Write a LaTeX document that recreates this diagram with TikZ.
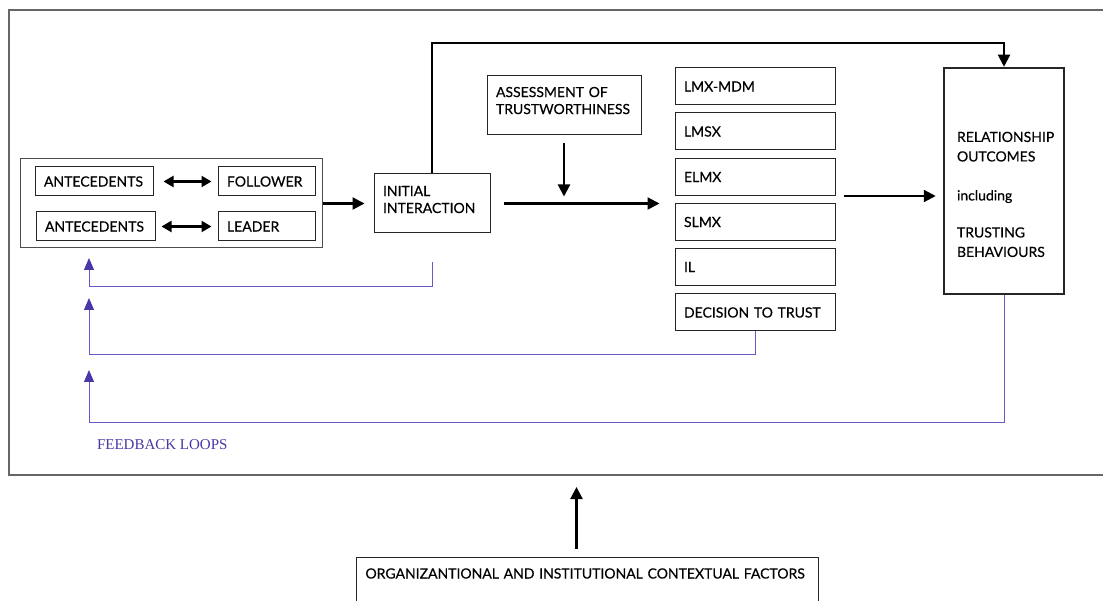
\documentclass[tikz,border=0pt]{standalone}
\usepackage{fontspec}
\setmainfont{Lato}
\newfontfamily\boxfont{Lato}[FakeBold=0.4]
\newfontfamily\loopfont{Liberation Serif}
\usetikzlibrary{arrows.meta}
\definecolor{loopcol}{RGB}{104,88,200}
\definecolor{loophead}{RGB}{72,56,168}
\tikzset{
  box/.style={draw=black!85, line width=1pt, inner xsep=9pt, inner ysep=0pt, align=left, font=\boxfont\fontsize{14}{17}\selectfont},
  arr/.style={line width=2.2pt, -{Triangle[length=12pt,width=12pt]}},
  dblarr/.style={line width=2.2pt, {Triangle[length=10pt,width=11pt]}-{Triangle[length=10pt,width=11pt]}},
  fb/.style={draw=loopcol, line width=1pt, -{Triangle[length=12pt,width=10pt,color=loophead,fill=loophead]}}
}
\begin{document}
\begin{tikzpicture}[x = 1pt, y = -1pt]
	\useasboundingbox (0,0) rectangle (1103,601);
	% Nodes
	\node[draw=black!60, line width=2pt, minimum width=1110pt, minimum height=465pt, anchor=north west, inner sep=0pt] (frame) at (8,9) {};
	\node[box, text width=100pt, minimum height=29pt] (antf) at (94,181.5) {ANTECEDENTS};
	\node[box, text width=79pt, minimum height=29pt] (fol) at (266.5,181.5) {FOLLOWER};
	\node[box, text width=101pt, minimum height=29pt] (antl) at (95.5,226.5) {ANTECEDENTS};
	\node[box, text width=79pt, minimum height=29pt] (lead) at (266.5,226.5) {LEADER};
	\node[draw=black!70, line width=1pt, minimum width=302pt, minimum height=89pt] (grp) at (171,203.5) {};
	\node[box, text width=98pt, minimum height=59pt] (init) at (432,203.5) {INITIAL\\INTERACTION\\[-9pt]\mbox{}};
	\node[box, text width=136pt, minimum height=59pt] (assess) at (564,105.5) {ASSESSMENT OF\\TRUSTWORTHINESS\\[-7pt]\mbox{}};
	\foreach \lbl/\nm/\yy in {LMX-MDM/mdm/86.5, LMSX/lmsx/131.5, ELMX/elmx/177, SLMX/slmx/222, IL/il/267, DECISION TO TRUST/dtt/312.5}
		\node[box, text width=142pt, minimum height=37pt] (\nm) at (755,\yy) {\lbl};
	\node[box, line width=2.5pt, inner xsep=13pt, text width=94pt, minimum height=226pt, font=\boxfont\fontsize{14}{19.5}\selectfont] (rel) at (1004,181) {\mbox{}\\[17.5pt]RELATIONSHIP\\OUTCOMES\\[19.5pt]including\\[17.5pt]TRUSTING\\BEHAVIOURS};
	\node[box, anchor=north west, text width=444pt, text height=11pt, text depth=45pt, inner ysep=10pt] (org) at (356,557) {ORGANIZANTIONAL AND INSTITUTIONAL CONTEXTUAL FACTORS};
	\node[font=\loopfont\fontsize{15}{17}\selectfont, text=loophead, anchor=west] (fbl) at (93.5,445) {FEEDBACK LOOPS};
	\coordinate (initfb) at ([yshift=-29pt]init.south);
	\coordinate (tipA) at (89,258);
	\coordinate (tipB) at (89,298);
	\coordinate (tipC) at (89,370);
	\coordinate (ctxarr) at ([xshift=-11pt, yshift=8pt]org.north);
	
	% Edges
	\draw[dblarr, shorten <=10pt, shorten >=6pt] (antf) -- (fol);
	\draw[dblarr, shorten <=6pt, shorten >=6pt] (antl) -- (lead);
	\draw[arr, shorten >=9pt] (grp.east) -- (init.west);
	\draw[arr, line width=2pt] (init.north) -- ++(0,-130) -| (rel.north);
	\draw[arr, shorten <=13pt, shorten >=15pt] (init.east) -- (init.east -| mdm.west);
	\draw[arr, shorten <=8pt, shorten >=7pt] (assess.south) -- (assess.south |- init.east);
	\draw[arr, shorten <=8pt, shorten >=7pt] (elmx.south east) -- (elmx.south east -| rel.west);
	\draw[arr, shorten >=11pt] (ctxarr) -- (ctxarr |- frame.south);
	\draw[fb] (initfb) -- ++(0,24) -| (tipA);
	\draw[fb] (dtt.south) -- ++(0,23) -| (tipB);
	\draw[fb] (rel.south) -- ++(0,127) -| (tipC);
\end{tikzpicture}
\end{document}
